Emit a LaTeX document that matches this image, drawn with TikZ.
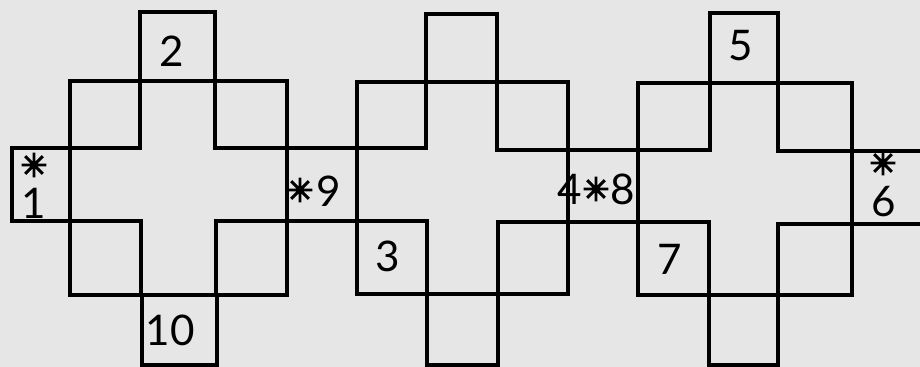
\documentclass[tikz,border=0pt]{standalone}
\usepackage{fontspec}
\setmainfont{Lato}
\newfontfamily\starfont[FakeBold=4]{DejaVu Sans}
\definecolor{paper}{RGB}{230,230,230}
\tikzset{
  grid line/.style={line width=2.2pt, line join=miter},
  num/.style={inner sep=0pt, font=\fontsize{30}{30}\selectfont},
  star/.style={inner sep=0pt, font=\starfont\fontsize{23}{23}\selectfont}
}
\begin{document}
\begin{tikzpicture}[x=0.025cm, y=-0.025cm]
\fill[paper] (0,0) rectangle (920,367);
\useasboundingbox (0,0) rectangle (920,367);

% left cross
\draw[grid line] (140,12) rectangle (215,81);
\draw[grid line] (70,81) rectangle (287,295);
\draw[grid line] (140,81) -- (140,148) -- (70,148);
\draw[grid line] (215,81) -- (215,148) -- (287,148);
\draw[grid line] (70,221) -- (141,221) -- (141,295);
\draw[grid line] (287,221) -- (216,221) -- (216,295);
\draw[grid line] (142,295) rectangle (217,365);
\draw[grid line] (70,148) -- (12,148) -- (12,221) -- (70,221);
\draw[grid line] (287,148) -- (357,148);
\draw[grid line] (287,221) -- (357,221);

% middle cross
\draw[grid line] (426,14) rectangle (497,82);
\draw[grid line] (357,82) rectangle (568,294);
\draw[grid line] (426,82) -- (426,148) -- (357,148);
\draw[grid line] (497,82) -- (497,150) -- (568,150);
\draw[grid line] (357,221) -- (427,221) -- (427,294);
\draw[grid line] (568,222) -- (498,222) -- (498,294);
\draw[grid line] (427,294) rectangle (498,365);
\draw[grid line] (568,150) -- (638,150);
\draw[grid line] (568,222) -- (638,222);

% right cross
\draw[grid line] (710,13) rectangle (778,83);
\draw[grid line] (638,83) rectangle (852,295);
\draw[grid line] (710,83) -- (710,150) -- (638,150);
\draw[grid line] (778,83) -- (778,151) -- (852,151);
\draw[grid line] (638,222) -- (709,222) -- (709,295);
\draw[grid line] (852,224) -- (778,224) -- (778,295);
\draw[grid line] (709,295) rectangle (778,365);
\draw[grid line] (852,151) -- (920,151);
\draw[grid line] (852,224) -- (920,224);

% numbers and stars
\node[num] (two) at (172,51) {2};
\node[star] (star one) at (34,165) {✳};
\node[num] (one) at (34,203) {1};
\node[num] (ten) at (170,330) {10};
\node[star] (star nine) at (300,190) {✳};
\node[num] (nine) at (329,191) {9};
\node[num] (three) at (388,256) {3};
\node[num] (four) at (570,189) {4};
\node[star] (star eight) at (596,189) {✳};
\node[num] (eight) at (623,189) {8};
\node[num] (five) at (741,46) {5};
\node[num] (seven) at (670,259) {7};
\node[star] (star six) at (883,163) {✳};
\node[num] (six) at (884,202) {6};
\end{tikzpicture}
\end{document}
